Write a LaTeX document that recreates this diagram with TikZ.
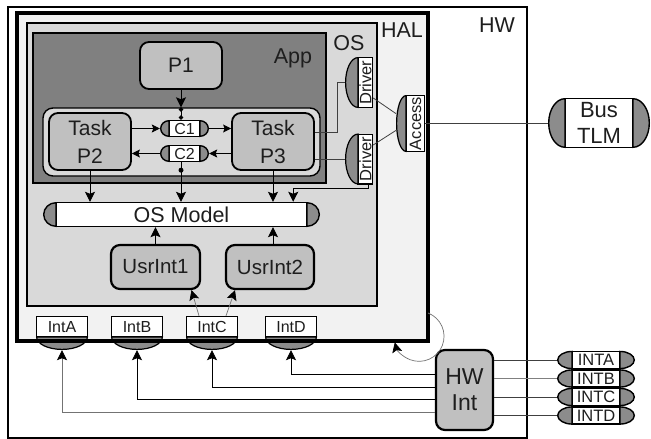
\documentclass[tikz,border=0pt]{standalone}
\usepackage{fontspec}
\setmainfont{Liberation Sans}
\usepackage{graphicx}
\usetikzlibrary{arrows.meta,calc}
\definecolor{halfill}{HTML}{F2F2F2}
\definecolor{osfill}{HTML}{D9D9D9}
\definecolor{appfill}{HTML}{808080}
\definecolor{procfill}{HTML}{C0C0C0}
\definecolor{capfill}{HTML}{8C8C8C}
\definecolor{ink}{HTML}{1E1E1E}

\begin{document}
\begin{tikzpicture}[x=1pt, y=-1pt,
    every node/.style={text=ink},
    frame/.style={draw, line width=2.8pt, inner sep=0pt, outer sep=0pt},
    ttl/.style={font=\fontsize{21.5}{24}\selectfont},
    proc/.style={draw, line width=1.8pt, rounded corners=9pt, fill=procfill, inner sep=0pt,
                 align=center, font=\fontsize{21}{28}\selectfont},
    chan/.style={inner sep=0pt, align=center, path picture={
        \path[draw, line width=1.4pt, fill=white]
          let \p1=(path picture bounding box.south west), \p2=(path picture bounding box.north east) in
          (\x1+#1, \y1+0.7pt) rectangle (\x2-#1, \y2-0.7pt);
        \path[draw, line width=1.4pt, fill=capfill]
          let \p1=(path picture bounding box.south west), \p2=(path picture bounding box.north east) in
          (\x1+#1, \y1+0.7pt) arc[start angle=-90, end angle=-270, x radius={#1-0.7pt}, y radius={(\y2-\y1)/2-0.7pt}] -- cycle
          (\x2-#1, \y1+0.7pt) arc[start angle=-90, end angle=90, x radius={#1-0.7pt}, y radius={(\y2-\y1)/2-0.7pt}] -- cycle;
      }},
    port/.style={inner sep=0pt, execute at begin node={\hspace*{#1}},
      font=\fontsize{16.5}{18}\selectfont, path picture={
        \path[draw, line width=1.2pt, fill=white]
          let \p1=(path picture bounding box.south west), \p2=(path picture bounding box.north east) in
          (\x1+#1, \y1+0.6pt) rectangle (\x2-0.6pt, \y2-0.6pt);
        \path[draw, line width=1.2pt, fill=capfill]
          let \p1=(path picture bounding box.south west), \p2=(path picture bounding box.north east) in
          (\x1+#1, \y1+0.6pt) arc[start angle=-90, end angle=-270, x radius={#1-0.6pt}, y radius={(\y2-\y1)/2-0.6pt}] -- cycle;
      }},
    socket/.style={inner sep=0pt, text height=11pt, text depth=13pt,
      font=\fontsize{16}{17}\selectfont, path picture={
        \path[draw, line width=1.2pt, fill=white]
          let \p1=(path picture bounding box.south west), \p2=(path picture bounding box.north east) in
          (\x1+0.6pt, \y1+#1) rectangle (\x2-0.6pt, \y2-0.6pt);
        \path[draw, line width=1.2pt, fill=capfill]
          let \p1=(path picture bounding box.south west), \p2=(path picture bounding box.north east) in
          (\x1+0.6pt, \y1+#1) arc[start angle=180, end angle=360, x radius={(\x2-\x1)/2-0.6pt}, y radius={#1-0.6pt}] -- cycle;
      }},
    flow/.style={-{Stealth[length=10pt, width=10pt, inset=2pt]}, line width=0.9pt},
    gflow/.style={-{Stealth[length=10pt, width=10pt, inset=2pt, color=black]}, line width=0.7pt, black!55},
    wire/.style={line width=0.8pt, black!75},
    tap/.style={{Circle[length=4.5pt]}-{Circle[length=4.5pt]}, line width=0.9pt},
]
\useasboundingbox (0,0) rectangle (651,439);

% Containers: HW, HAL, OS, App
\node[frame, fill=white, minimum width=519pt, minimum height=431pt] (hw) at (267.5,222.5) {};
\node[ttl] (hwlbl) at (497,25) {HW};
\node[frame, line width=3.2pt, fill=halfill, minimum width=411pt, minimum height=328pt] (hal) at (222.5,177) {};
\node[ttl] (hallbl) at (402,30) {HAL};
\node[frame, fill=osfill, minimum width=350pt, minimum height=283pt] (os) at (202,164.5) {};
\node[ttl] (oslbl) at (349,43) {OS};
\node[frame, fill=appfill, minimum width=293pt, minimum height=150pt] (app) at (179.5,108) {};
\node[ttl] (applbl) at (293,58) {App};

% Application processes and channels
\node[proc, minimum width=82pt, minimum height=47pt] (p1) at (181,65.5) {P1};
\node[draw, line width=1.4pt, rounded corners=10pt, fill=osfill,
      minimum width=277pt, minimum height=68pt] (grp) at (181.5,142) {};
\node[proc, minimum width=82pt, minimum height=57pt] (p2) at (90,141.5) {Task\\P2};
\node[proc, minimum width=82pt, minimum height=57pt] (p3) at (273,141.5) {Task\\P3};
\node[chan=9pt, minimum width=49pt, minimum height=17pt, font=\fontsize{16}{18}\selectfont] (c1) at (184.5,128.5) {C1};
\node[chan=9pt, minimum width=49pt, minimum height=17pt, font=\fontsize{16}{18}\selectfont] (c2) at (184.5,153.5) {C2};

% OS model, drivers, user interrupts
\node[port=13pt, minimum width=28pt, minimum height=51pt] (drv1) at (359,82.5) {\rotatebox{90}{Driver}};
\node[port=13pt, minimum width=28pt, minimum height=51pt] (drv2) at (359,159) {\rotatebox{90}{Driver}};
\node[chan=13pt, minimum width=277pt, minimum height=25pt, font=\fontsize{21.5}{24}\selectfont] (osm) at (181.5,214.5) {OS Model};
\node[proc, line width=2.2pt, minimum width=89pt, minimum height=44pt, font=\fontsize{20.5}{24}\selectfont] (usr1) at (155.5,267) {UsrInt1};
\node[proc, line width=2.2pt, minimum width=88pt, minimum height=44pt, font=\fontsize{20.5}{24}\selectfont] (usr2) at (270,267) {UsrInt2};

% HAL: bus access and interrupt sockets
\node[port=10pt, minimum width=29pt, minimum height=57pt] (acc) at (410.5,123.5) {\rotatebox{90}{Access}};
\node[socket=13pt, minimum width=52pt, minimum height=34pt] (inta) at (62,333) {IntA};
\node[socket=13pt, minimum width=52pt, minimum height=34pt] (intb) at (137,333) {IntB};
\node[socket=13pt, minimum width=52pt, minimum height=34pt] (intc) at (212,333) {IntC};
\node[socket=13pt, minimum width=52pt, minimum height=34pt] (intd) at (291,333) {IntD};
\draw[line width=3.2pt] (hal.south west) -- (hal.south east);

% HW: interrupt controller, bus, interrupt lines
\node[proc, line width=2.2pt, minimum width=57pt, minimum height=80pt, font=\fontsize{23}{26}\selectfont] (hwi) at (464.5,390) {HW\\Int};
\node[chan=17pt, minimum width=102pt, minimum height=50pt, font=\fontsize{22}{26}\selectfont] (bus) at (599,123) {Bus\\TLM};
\node[chan=15pt, minimum width=78pt, minimum height=18.5pt, font=\fontsize{16.5}{18}\selectfont] (xa) at (596,360) {INTA};
\node[chan=15pt, minimum width=78pt, minimum height=18.5pt, font=\fontsize{16.5}{18}\selectfont] (xb) at (596,378.5) {INTB};
\node[chan=15pt, minimum width=78pt, minimum height=18.5pt, font=\fontsize{16.5}{18}\selectfont] (xc) at (596,397) {INTC};
\node[chan=15pt, minimum width=78pt, minimum height=18.5pt, font=\fontsize{16.5}{18}\selectfont] (xd) at (596,415.5) {INTD};

% connections inside App
\draw[flow] (p1.south) -- (p1.south |- grp.north);
\draw[tap] (p1.south |- grp.north) -- (p1.south |- c1.north);
\draw[flow, -{Stealth[length=8pt, width=8pt, inset=1.5pt]}] (p2.east |- c1.west) -- (c1.west);
\draw[flow, -{Stealth[length=8pt, width=8pt, inset=1.5pt]}] (c1.east) -- (c1.east -| p3.west);
\draw[flow, -{Stealth[length=8pt, width=8pt, inset=1.5pt]}] (p3.west |- c2.east) -- (c2.east);
\draw[flow, -{Stealth[length=8pt, width=8pt, inset=1.5pt]}] (c2.west) -- (c2.west -| p2.east);
\coordinate (c2dot) at ($(p1.south |- c2.south)+(0,8)$);
\draw[flow] (p1.south |- c2.south) -- (p1.south |- osm.north);
\fill (c2dot) circle (2.5pt);
\draw[flow] (p2.south) -- (p2.south |- osm.north);
\draw[flow] (p3.south) -- (p3.south |- osm.north);

% drivers and bus access
\draw[wire] ([yshift=9.5pt]p3.east) -- ++(22,0) |- (drv1.west);
\draw[wire] (drv2.west -| p3.east) -- (drv2.west);
\draw[flow, line width=0.8pt] ([xshift=9pt]drv2.south) -- ++(0,4) -| ([xshift=-27pt]osm.north east);
\draw[wire] ([yshift=-15.5pt]drv1.east) -- ([yshift=10pt]acc.west);
\draw[wire] ([yshift=14pt]drv2.east) -- ([yshift=-7pt]acc.west);
\draw[wire] (acc.east) -- (acc.east -| bus.west);

% user interrupts
\draw[flow] (usr1.north) -- (usr1.north |- osm.south);
\draw[flow] (usr2.north -| p3.south) -- (p3.south |- osm.south);
\draw[gflow] ([xshift=-13pt]intc.north) -- ([xshift=36pt]usr1.south);
\draw[gflow] ([xshift=14pt]intc.north) -- ([xshift=-35pt]usr2.south);

% interrupt lines
\draw[flow, line width=0.8pt] ([yshift=16pt]hwi.west) -| (intd.south);
\draw[flow, line width=0.8pt] ([yshift=3pt]hwi.west) -| (intc.south);
\draw[flow, line width=0.8pt] ([yshift=-9pt]hwi.west) -| (intb.south);
\draw[gflow, line width=0.8pt] ([yshift=-22pt]hwi.west) -| (inta.south);
\draw[wire] (xa.west -| hwi.east) -- (xa.west);
\draw[wire, black!50] (xb.west -| hwi.east) -- (xb.west);
\draw[wire] (xc.west -| hwi.east) -- (xc.west);
\draw[wire] (xd.west -| hwi.east) -- (xd.west);
\coordinate (irq) at ([yshift=28pt]hal.south east);
\draw[gflow] (irq) arc[start angle=69, end angle=-166, radius=25pt];
\end{tikzpicture}
\end{document}
